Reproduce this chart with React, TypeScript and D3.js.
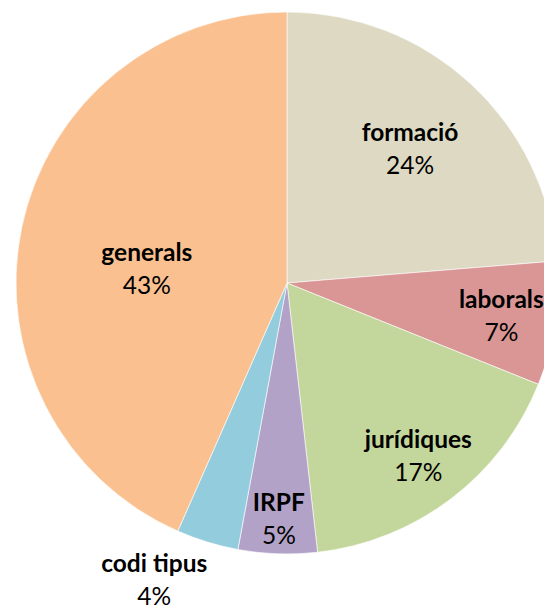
import { useMemo } from 'react';
import * as d3 from 'd3';

// slice data, clockwise from 12 o'clock
const categories = ['formació', 'laborals', 'jurídiques', 'IRPF', 'codi tipus', 'generals'];
const shares = [23.7, 7.4, 17.1, 4.7, 3.7, 43.4];
const colors = ['#DDD9C3', '#D99694', '#C3D69B', '#B3A2C7', '#93CDDD', '#FAC090'];

// how far out each label sits (fraction of radius), excel "best fit" style
const LABEL_R = [0.67, 0.8, 0.8, 0.87, 1.2, 0.52];
const LABEL_SHIFT = [0, 0, 0, 0, 7, -6]; // degrees

const WIDTH = 544,
  HEIGHT = 607;
const CX = 287,
  CY = 283,
  RADIUS = 271;

export default function App() {
  const data = useMemo(
    () => categories.map((name, i) => ({ name, value: shares[i], color: colors[i] })),
    []
  );

  const pie = d3
    .pie<{ name: string; value: number; color: string }>()
    .sort(null)
    .value(d => d.value);
  const arcs = pie(data);
  const total = d3.sum(shares);

  const arcGen = d3
    .arc<d3.PieArcDatum<{ name: string; value: number; color: string }>>()
    .innerRadius(0)
    .outerRadius(RADIUS);

  const slices = arcs.map((a, i) => (
    <path key={i} d={arcGen(a) || ''} fill={a.data.color} stroke="#ffffff" strokeWidth={0.6} />
  ));

  const labels = arcs.map((a, i) => {
    const mid = (a.startAngle + a.endAngle) / 2 + (LABEL_SHIFT[i] * Math.PI) / 180;
    const r = RADIUS * LABEL_R[i];
    const x = Math.sin(mid) * r;
    const y = -Math.cos(mid) * r;
    const pct = Math.round((a.data.value / total) * 100);
    return (
      <g key={i} transform={`translate(${x},${y})`}>
        <text textAnchor="middle" y={-8} fontWeight="bold" fontSize={24.5}>
          {a.data.name}
        </text>
        <text textAnchor="middle" y={25} fontSize={24.5}>
          {pct}%
        </text>
      </g>
    );
  });

  return (
    <svg
      width={WIDTH}
      height={HEIGHT}
      style={{ position: 'absolute', left: 0, top: 0, background: '#fff' }}
      fontFamily="Lato, 'Open Sans', sans-serif"
    >
      <g transform={`translate(${CX},${CY})`}>
        {slices}
        {labels}
      </g>
    </svg>
  );
}
